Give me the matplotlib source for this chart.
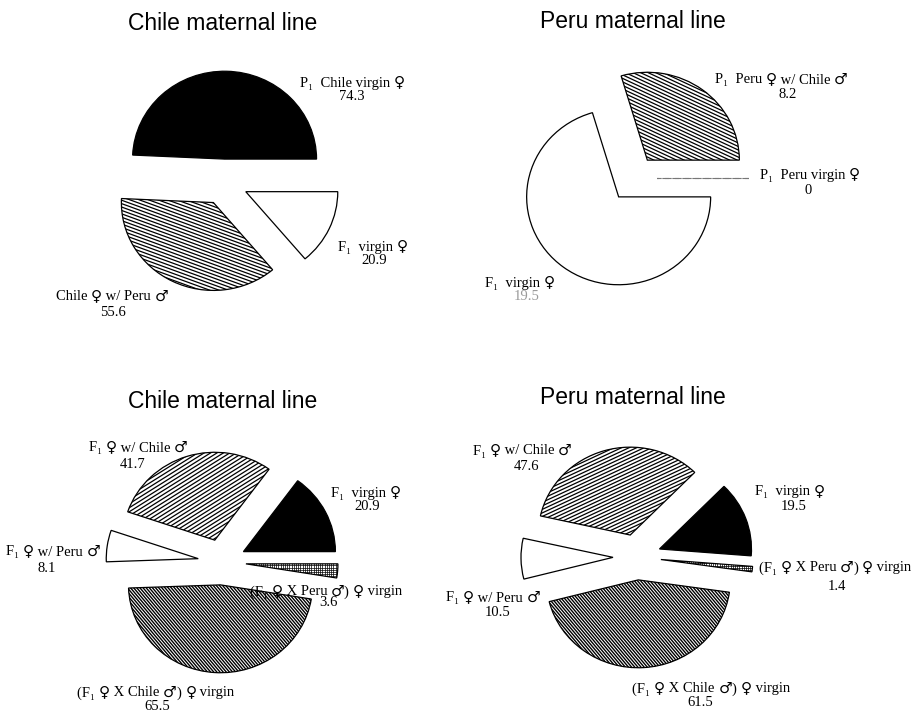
import re
import numpy as np
import matplotlib.pyplot as plt
from matplotlib.collections import LineCollection
from matplotlib.offsetbox import TextArea, HPacker, AnnotationBbox

W, H = 911, 714
SQ = 0.955          # circles are drawn slightly flattened
R = 92              # pie radius (px)
EXPLODE = 24        # wedge offset (px)

FEM, MAL, SUB1 = "\u2640", "\u2642", "\u2081"

# ---- data -------------------------------------------------------------
top_chile_labels = [f"P{SUB1}  Chile virgin {FEM}", f"Chile {FEM} w/ Peru {MAL}", f"F{SUB1}  virgin {FEM}"]
top_chile_values = [74.3, 55.6, 20.9]

top_peru_labels = [f"P{SUB1}  Peru {FEM} w/ Chile {MAL}", f"F{SUB1}  virgin {FEM}", f"P{SUB1}  Peru virgin {FEM}"]
top_peru_values = [8.2, 19.5, 0]

bot_chile_labels = [f"F{SUB1}  virgin {FEM}", f"F{SUB1} {FEM} w/ Chile {MAL}", f"F{SUB1} {FEM} w/ Peru {MAL}",
                    f"(F{SUB1} {FEM} X Chile {MAL}) {FEM} virgin", f"(F{SUB1} {FEM} X Peru {MAL}) {FEM} virgin"]
bot_chile_values = [20.9, 41.7, 8.1, 65.5, 3.6]

bot_peru_labels = [f"F{SUB1}  virgin {FEM}", f"F{SUB1} {FEM} w/ Chile {MAL}", f"F{SUB1} {FEM} w/ Peru {MAL}",
                   f"(F{SUB1} {FEM} X Chile {MAL}) {FEM} virgin", f"(F{SUB1} {FEM} X Peru {MAL}) {FEM} virgin"]
bot_peru_values = [19.5, 47.6, 10.5, 61.5, 1.4]

# ---- layout / styling ---------------------------------------------------
# hatch: (angle deg, spacing px, line width) or "grid"
panels = [
    dict(title="Chile maternal line", title_xy=(223, 23), center=(224, 182), start=0,
         labels=top_chile_labels, values=top_chile_values,
         fills=["black", "white", "white"],
         hatches=[None, (-20, 3.2, 0.9), None],
         label_xy=[(352, 82), (112, 296), (373, 246)],
         value_xy=[(352, 97), (113, 313), (374, 261)],
         value_col=["black"] * 3),
    dict(title="Peru maternal line", title_xy=(633, 21), center=(633, 178.5), start=0,
         labels=top_peru_labels, values=top_peru_values,
         fills=["white", "white", "white"],
         hatches=[(-25, 3.2, 0.9), None, None],
         label_xy=[(781, 79), (520, 282), (810, 174)],
         value_xy=[(788, 95), (527, 297), (808, 191)],
         value_col=["black", "#9a9a9a", "black"]),
    dict(title="Chile maternal line", title_xy=(223, 402), center=(222, 562), start=0,
         labels=bot_chile_labels, values=bot_chile_values,
         fills=["black", "white", "white", "white", "white"],
         hatches=[None, (32, 3.4, 0.9), None, (-50, 2.4, 1.0), "grid"],
         label_xy=[(366, 492), (138, 447), (53, 551), (156, 692), (326, 591)],
         value_xy=[(367, 507), (133, 464), (47, 568), (157, 707), (328, 603)],
         value_col=["black"] * 5),
    dict(title="Peru maternal line", title_xy=(633, 397), center=(637, 557), start=-4.5,
         labels=bot_peru_labels, values=bot_peru_values,
         fills=["black", "white", "white", "white", "white"],
         hatches=[None, (25, 3.2, 0.9), None, (-50, 2.4, 1.0), "grid"],
         label_xy=[(790, 491), (522, 450), (493, 597), (711, 688), (835, 567)],
         value_xy=[(794, 506), (527, 466), (498, 612), (700, 703), (837, 586)],
         value_col=["black"] * 5),
]

serif = dict(family=["Liberation Serif", "DejaVu Serif"], fontsize=10.5)
symbol = dict(family="DejaVu Sans", fontsize=11, fontweight="bold")


def yd(py):
    return (H - py) / SQ


def add_hatch(ax, wedge, spec):
    cx, cy = wedge.center
    specs = [(0, 2.2, 0.5), (90, 2.2, 0.5)] if spec == "grid" else [spec]
    for ang, step, lw in specs:
        a = np.deg2rad(ang)
        d = np.array([np.cos(a), np.sin(a)])
        n = np.array([-np.sin(a), np.cos(a)])
        segs = []
        for t in np.arange(-1.5 * R, 1.5 * R, step):
            p0 = t * n - 1.5 * R * d
            p1 = t * n + 1.5 * R * d
            segs.append([(cx + p0[0], cy + p0[1] / SQ), (cx + p1[0], cy + p1[1] / SQ)])
        lc = LineCollection(segs, colors="black", linewidths=lw, zorder=wedge.get_zorder() + 0.1)
        ax.add_collection(lc)
        lc.set_clip_path(wedge)


def rich_label(ax, x, y, text):
    # serif text with heavier sex symbols
    kids = []
    for s in re.split(f"([{FEM}{MAL}])", text):
        if not s:
            continue
        props = symbol if s in (FEM, MAL) else serif
        kids.append(TextArea(s, textprops=props))
    box = HPacker(children=kids, align="baseline", pad=0, sep=0)
    ab = AnnotationBbox(box, (x, yd(y)), xycoords="data", box_alignment=(0.5, 0.5),
                        frameon=False, pad=0, annotation_clip=False)
    ax.add_artist(ab)


fig = plt.figure(figsize=(W / 100, H / 100), dpi=100)
ax = fig.add_axes([0, 0, 1, 1])

for p in panels:
    n = len(p["values"])
    wedges, _ = ax.pie(p["values"], explode=[EXPLODE] * n, radius=R,
                       center=(p["center"][0], yd(p["center"][1])),
                       startangle=p["start"], colors=p["fills"], normalize=True,
                       wedgeprops=dict(edgecolor="black", linewidth=0.9))
    for w, v, h in zip(wedges, p["values"], p["hatches"]):
        if v == 0:
            w.set_linestyle((0, (6, 3)))
            w.set_edgecolor("#777777")
            w.set_linewidth(0.8)
        if h is not None:
            add_hatch(ax, w, h)
    ax.text(p["title_xy"][0], yd(p["title_xy"][1]), p["title"], ha="center", va="center",
            fontsize=16.5, family="Liberation Sans")
    for lab, v, lxy, vxy, vc in zip(p["labels"], p["values"], p["label_xy"], p["value_xy"], p["value_col"]):
        rich_label(ax, lxy[0], lxy[1], lab)
        ax.text(vxy[0], yd(vxy[1]), f"{v:g}", ha="center", va="center", color=vc, **serif)

ax.set_aspect("auto")
ax.set_xlim(0, W)
ax.set_ylim(0, H / SQ)
ax.axis("off")

fig.savefig("out.png", dpi=100, facecolor="white")
